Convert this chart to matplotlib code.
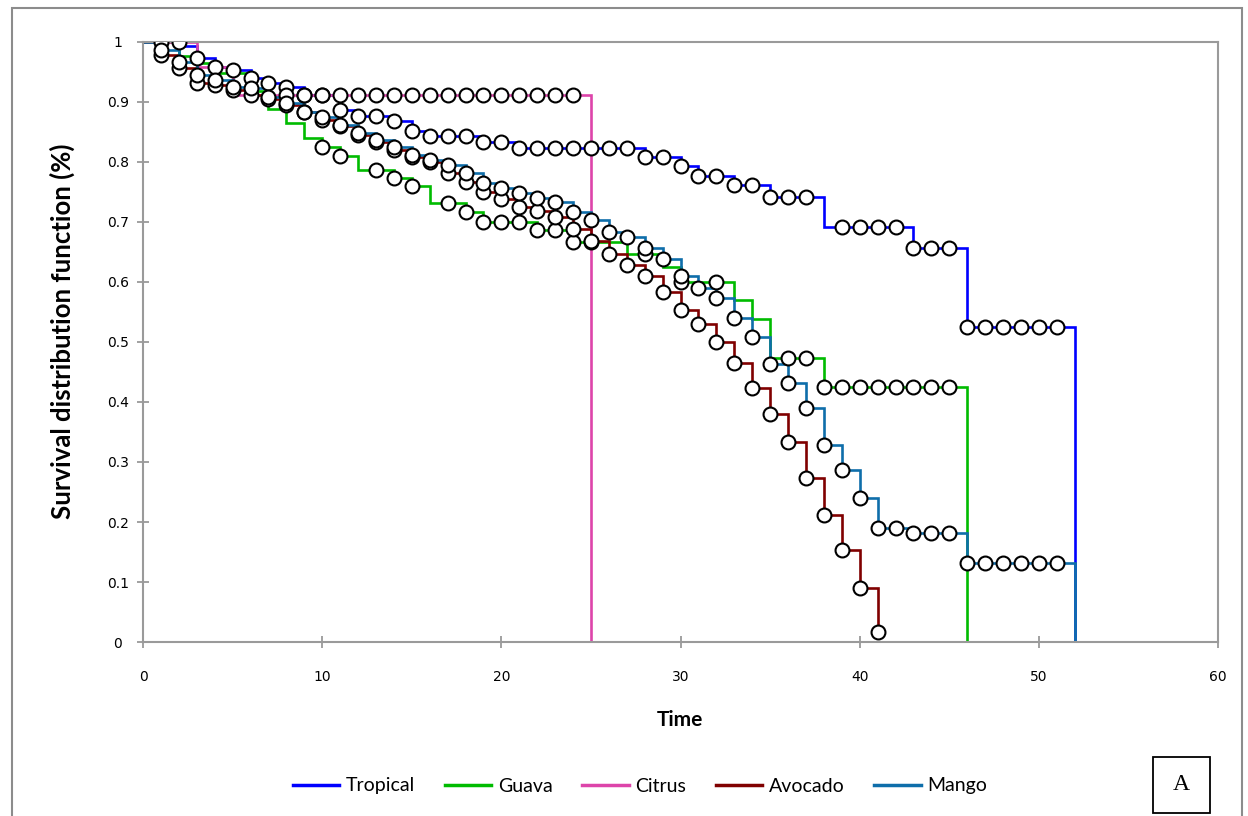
import numpy as np
import matplotlib
matplotlib.use("Agg")
import matplotlib.pyplot as plt
from matplotlib.patches import Rectangle

# ---------------- data ----------------
series_names = ["Tropical", "Guava", "Citrus", "Avocado", "Mango"]

tropical_t = [0, 2, 3, 4, 5, 6, 7, 8, 9, 11, 12, 14, 15, 16, 19, 21, 28, 30, 31, 33, 35, 38, 43, 46, 52]
tropical_s = [1.0, 0.993, 0.973, 0.958, 0.953, 0.940, 0.932, 0.925, 0.912, 0.887, 0.877, 0.868, 0.852,
              0.843, 0.833, 0.823, 0.808, 0.793, 0.777, 0.762, 0.742, 0.692, 0.657, 0.525, 0.0]
tropical_marks = [3, 4, 5, 6, 7, 8, 9, 10, 11, 12, 13, 14, 15, 16, 17, 18, 19, 20, 21, 22, 23, 24, 25,
                  26, 27, 28, 29, 30, 31, 32, 33, 34, 35, 36, 37, 39, 40, 41, 42, 43, 44, 45,
                  46, 47, 48, 49, 50, 51]

guava_t = [0, 2, 3, 4, 6, 7, 8, 9, 10, 11, 12, 14, 15, 16, 18, 19, 22, 24, 27, 29, 30, 33, 34, 35, 38, 46]
guava_s = [1.0, 0.977, 0.965, 0.948, 0.918, 0.888, 0.865, 0.840, 0.825, 0.810, 0.787, 0.773, 0.760,
           0.731, 0.717, 0.700, 0.687, 0.667, 0.647, 0.625, 0.600, 0.570, 0.538, 0.473, 0.425, 0.0]
guava_marks = [10, 11, 13, 14, 15, 17, 18, 19, 20, 21, 22, 23, 24, 25, 28, 30, 32, 36, 37,
               38, 39, 40, 41, 42, 43, 44, 45]

citrus_t = [0, 3, 5, 25]
citrus_s = [1.0, 0.958, 0.912, 0.0]
citrus_marks = [1, 2, 8, 9, 10, 11, 12, 13, 14, 15, 16, 17, 18, 19, 20, 21, 22, 23, 24]

avocado_t = list(range(0, 42))
avocado_s = [1.0, 0.978, 0.957, 0.932, 0.928, 0.920, 0.912, 0.905, 0.895, 0.883, 0.870, 0.860,
             0.845, 0.833, 0.820, 0.808, 0.800, 0.782, 0.767, 0.750, 0.738, 0.725, 0.718, 0.708,
             0.688, 0.668, 0.647, 0.628, 0.610, 0.583, 0.553, 0.530, 0.500, 0.465, 0.423, 0.380,
             0.333, 0.273, 0.212, 0.153, 0.090, 0.017]
avocado_marks = list(range(1, 42))

mango_t = list(range(0, 42)) + [43, 46, 52]
mango_s = [1.0, 0.987, 0.967, 0.945, 0.937, 0.925, 0.923, 0.908, 0.898, 0.883, 0.875, 0.862,
           0.848, 0.837, 0.825, 0.812, 0.803, 0.795, 0.782, 0.765, 0.757, 0.748, 0.740, 0.733,
           0.717, 0.703, 0.683, 0.675, 0.657, 0.638, 0.610, 0.590, 0.573, 0.540, 0.508, 0.463,
           0.432, 0.390, 0.328, 0.287, 0.240, 0.190, 0.182, 0.132, 0.0]
mango_marks = list(range(1, 52))

colors = ["#0000FF", "#00BB00", "#DD44AA", "#800000", "#0E6EAA"]

x_ticks = [0, 10, 20, 30, 40, 50, 60]
y_ticks = [0, 0.1, 0.2, 0.3, 0.4, 0.5, 0.6, 0.7, 0.8, 0.9, 1.0]
y_tick_labels = ["0", "0.1", "0.2", "0.3", "0.4", "0.5", "0.6", "0.7", "0.8", "0.9", "1"]

all_t = [tropical_t, guava_t, citrus_t, avocado_t, mango_t]
all_s = [tropical_s, guava_s, citrus_s, avocado_s, mango_s]
all_m = [tropical_marks, guava_marks, citrus_marks, avocado_marks, mango_marks]

# ---------------- figure ----------------
W, H = 1248, 816
fig = plt.figure(figsize=(W / 100, H / 100), dpi=100)
fig.patch.set_facecolor("white")

ax = fig.add_axes([143 / W, 1 - 642 / H, (1218 - 143) / W, 600 / H])
ax.set_xlim(0, 60)
ax.set_ylim(0, 1)

for name, t, s, c in zip(series_names, all_t, all_s, colors):
    ax.step(t, s, where="post", color=c, lw=1.9, zorder=2, label=name, solid_joinstyle="miter")

for t, s, m in zip(all_t, all_s, all_m):
    t_arr = np.asarray(t)
    s_arr = np.asarray(s)
    idx = np.searchsorted(t_arr, np.asarray(m), side="right") - 1
    ax.plot(m, s_arr[idx], ls="none", marker="o", ms=10, mfc="white", mec="black",
            mew=1.5, zorder=3)

for sp in ax.spines.values():
    sp.set_color("#9A9A9A")
    sp.set_linewidth(1.5)

ax.set_xticks(x_ticks)
ax.set_xticklabels([str(v) for v in x_ticks])
ax.set_yticks(y_ticks)
ax.set_yticklabels(y_tick_labels)
ax.tick_params(axis="both", direction="inout", length=8, width=1.3, color="#9A9A9A",
               labelsize=10, labelcolor="black")
ax.tick_params(axis="x", pad=16)
ax.tick_params(axis="y", pad=14)
ax.tick_params(top=False, right=False)
for lab in ax.get_yticklabels():
    lab.set_horizontalalignment("center")
    lab.set_fontfamily("DejaVu Sans")
for lab in ax.get_xticklabels():
    lab.set_fontfamily("DejaVu Sans")

fig.text(62 / W, 1 - 331 / H, "Survival distribution function (%)", rotation=90,
         ha="center", va="center", fontsize=18.5, fontweight="bold", family=["Lato", "DejaVu Sans"])
fig.text(680 / W, 1 - 720 / H, "Time", ha="center", va="center", fontsize=15,
         fontweight="bold", family=["Lato", "DejaVu Sans"])

handles, labels = ax.get_legend_handles_labels()
leg = fig.legend(handles, labels, loc="center", bbox_to_anchor=(640 / W, 1 - 786 / H),
                 ncol=5, frameon=False, prop={"family": "Lato", "size": 14},
                 handlelength=2.4, columnspacing=1.5, handletextpad=0.35)
for lh in leg.get_lines():
    lh.set_linewidth(2.5)

# "A" box
fig.add_artist(Rectangle((1153 / W, 1 - 813 / H), 57 / W, 56 / H, transform=fig.transFigure,
                         fill=True, fc="white", ec="black", lw=1.3))
fig.text(1181.5 / W, 1 - 785 / H, "A", ha="center", va="center", fontsize=17,
         family=["Liberation Serif", "DejaVu Serif"])

# outer chart border
fig.add_artist(Rectangle((12 / W, -0.02), (1242 - 12) / W, (816 - 8) / H + 0.02,
                         transform=fig.transFigure, fill=False, ec="#8C8C8C", lw=1.5))

fig.savefig("out.png", dpi=100, facecolor="white")
